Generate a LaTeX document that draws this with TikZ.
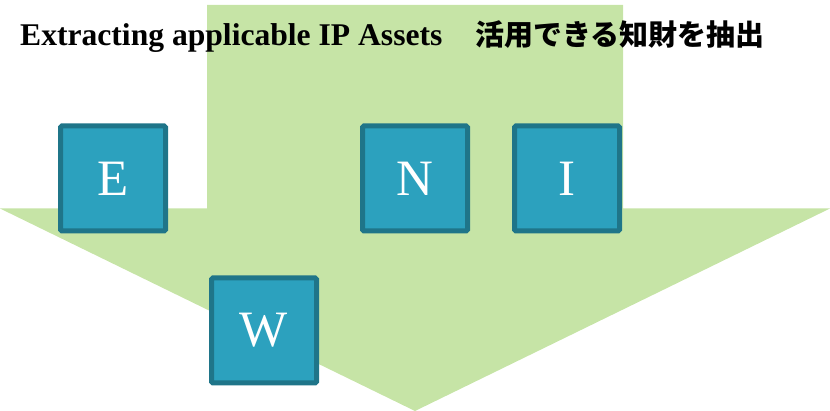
\documentclass[tikz,border=0pt]{standalone}
\usepackage{fontspec}
\setmainfont{Liberation Serif}
\newfontfamily\cjk{Noto Sans CJK JP}
\usetikzlibrary{shadows}
\definecolor{arrowgreen}{HTML}{C6E4A6}
\definecolor{boxfill}{HTML}{2CA1BE}
\definecolor{boxline}{HTML}{1F7589}
\tikzset{
  letterbox/.style={draw=boxline, fill=boxfill, line width=5pt, rounded corners=1.5pt,
    minimum width=105pt, minimum height=105pt, inner sep=0pt, text=white,
    font=\fontsize{51}{51}\selectfont,
    drop shadow={shadow xshift=1pt, shadow yshift=-1.5pt, opacity=0.35}},
}
\begin{document}
\begin{tikzpicture}[x=1pt,y=-1pt]
\useasboundingbox (0,0) rectangle (830,411);
\fill[arrowgreen] (207,5) -- (623,5) -- (623,208.5) -- (830,208.5) -- (415,411) -- (0,208.5) -- (207,208.5) -- cycle;
\node[anchor=base west, inner sep=0pt, font=\fontsize{31.6}{31.6}\selectfont\bfseries] (title) at (20,46) {Extracting applicable IP Assets};
\node[anchor=base west, inner sep=0pt, font=\fontsize{29}{29}\selectfont\cjk\bfseries] (jp) at (475,46) {活用できる知財を抽出};
\node[letterbox] (E) at (113,178.5) {E};
\node[letterbox] (N) at (415,178.5) {N};
\node[letterbox] (I) at (567,178.5) {I};
\node[letterbox] (W) at (264,330.5) {W};
\end{tikzpicture}
\end{document}
